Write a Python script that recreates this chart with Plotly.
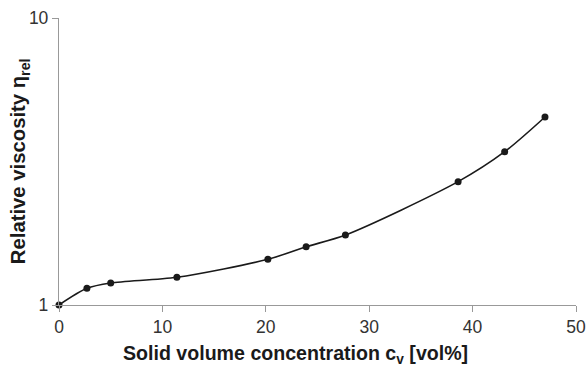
import plotly.graph_objects as go

cv = [0, 2.7, 5.0, 11.4, 20.2, 23.9, 27.7, 38.6, 43.1, 47.0]
eta_rel = [1.0, 1.143, 1.193, 1.249, 1.443, 1.596, 1.753, 2.69, 3.42, 4.52]

x_ticks = [0, 10, 20, 30, 40, 50]
y_ticks = [1, 10]

FONT = "Liberation Sans, Arial, sans-serif"

fig = go.Figure()
fig.add_trace(go.Scatter(
    x=cv, y=eta_rel, mode="lines+markers",
    line=dict(color="#1a1a1a", width=1.6, shape="spline", smoothing=0.8),
    marker=dict(color="#1a1a1a", size=7),
    showlegend=False, cliponaxis=False,
))

axis_font = dict(family=FONT, size=17.5, color="#333333")
fig.update_layout(
    width=588, height=368,
    margin=dict(l=59, r=12, t=18, b=63),
    paper_bgcolor="white", plot_bgcolor="white",
    xaxis=dict(
        range=[0, 50], tickvals=x_ticks, ticktext=[str(v) for v in x_ticks],
        showgrid=False, zeroline=False, showline=True, linecolor="#999999", linewidth=1.3,
        ticks="outside", ticklen=6, tickcolor="#999999", tickwidth=1.3,
        tickfont=axis_font, automargin=False,
    ),
    yaxis=dict(
        type="log", range=[0, 1], tickvals=y_ticks, ticktext=[str(v) for v in y_ticks],
        showgrid=False, zeroline=False, showline=True, linecolor="#999999", linewidth=1.3,
        ticks="outside", ticklen=6, tickcolor="#999999", tickwidth=1.3,
        tickfont=axis_font, automargin=False,
    ),
    annotations=[
        dict(text="<b>Solid volume concentration c<sub>v</sub> [vol%]</b>",
             xref="paper", yref="paper", x=0.457, y=-0.172, xanchor="center", yanchor="middle",
             showarrow=False,
             font=dict(family=FONT, size=19.6, color="#1a1a1a")),
        dict(text="<b>Relative viscosity η<sub>rel</sub></b>",
             xref="paper", yref="paper", x=-0.075, y=0.502, xanchor="center", yanchor="middle",
             showarrow=False, textangle=-90,
             font=dict(family=FONT, size=20.3, color="#1a1a1a")),
    ],
)

fig.write_html("out.html", config={"displayModeBar": False},
               post_script="document.body.style.margin='0';")
